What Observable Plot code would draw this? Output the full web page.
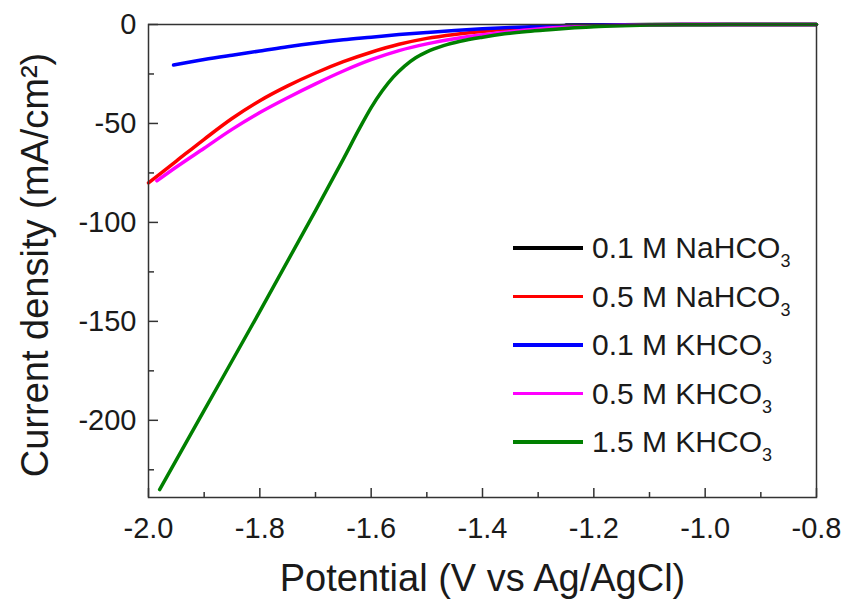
<!DOCTYPE html>
<html>
<head>
<meta charset="utf-8">
<script src="https://cdn.jsdelivr.net/npm/d3@7"></script>
<script src="https://cdn.jsdelivr.net/npm/@observablehq/plot@0.6"></script>
<style>
  html, body { margin: 0; padding: 0; background: #fff; }
  #wrap { position: relative; width: 846px; height: 601px; overflow: hidden; font-family: "Liberation Sans", Arial, sans-serif; }
  #legend { position: absolute; left: 513px; top: 223.75px; }
  .row { display: flex; align-items: center; height: 48.5px; font-size: 30px; line-height: 1; color: #1a1a1a; }
  .sw { width: 70px; height: 3.5px; margin-right: 9px; }
  .row sub { font-size: 18px; vertical-align: baseline; position: relative; top: 9px; }
</style>
</head>
<body>
<div id="wrap"><div id="legend"></div></div>
<script>
// ---- series data (Potential in V vs Ag/AgCl, current density in mA/cm2) ----
const seriesNames = ["0.1 M NaHCO", "0.5 M NaHCO", "0.1 M KHCO", "0.5 M KHCO", "1.5 M KHCO"];
const seriesColors = ["#000000", "#ff0000", "#0000ff", "#ff00ff", "#008000"];

const naHCO3_01_x = [-1.25, -1.2, -1.1, -1.0, -0.9, -0.8];
const naHCO3_01_y = [-0.3, -0.15, -0.05, 0, 0, 0];

const naHCO3_05_x = [-2.0, -1.95, -1.90, -1.85, -1.80, -1.75, -1.70, -1.65, -1.60, -1.55, -1.50, -1.45, -1.40, -1.35, -1.30, -1.25, -1.20, -1.10, -1.0, -0.8];
const naHCO3_05_y = [-80, -69, -58, -47.5, -38.5, -31, -24.5, -18.8, -14, -10, -7, -5, -3.5, -2.3, -1.4, -0.8, -0.4, -0.1, 0, 0];

const kHCO3_01_x = [-1.955, -1.90, -1.85, -1.80, -1.75, -1.70, -1.65, -1.60, -1.55, -1.50, -1.45, -1.40, -1.35, -1.30, -1.25, -1.20, -1.10, -1.0, -0.8];
const kHCO3_01_y = [-20.5, -17.7, -15.5, -13.4, -11.2, -9.3, -7.7, -6.4, -5.1, -4, -3, -2.2, -1.5, -0.95, -0.55, -0.3, -0.08, 0, 0];

const kHCO3_05_x = [-1.985, -1.95, -1.90, -1.85, -1.80, -1.75, -1.70, -1.65, -1.60, -1.55, -1.50, -1.45, -1.40, -1.35, -1.30, -1.25, -1.20, -1.10, -1.0, -0.8];
const kHCO3_05_y = [-79, -72, -62.5, -53, -44.5, -37, -30, -23.5, -17.8, -13.2, -9.8, -7.2, -5.2, -3.6, -2.3, -1.3, -0.7, -0.2, 0, 0];

const kHCO3_15_x = [-1.98, -1.90, -1.80, -1.70, -1.65, -1.62, -1.60, -1.58, -1.56, -1.54, -1.52, -1.50, -1.47, -1.44, -1.40, -1.36, -1.32, -1.28, -1.24, -1.20, -1.15, -1.10, -1.0, -0.9, -0.8];
const kHCO3_15_y = [-235, -195, -145, -94, -68, -52, -42, -33.5, -26.5, -21, -16.8, -13.8, -10.7, -8.5, -6.4, -4.7, -3.5, -2.6, -1.8, -1.1, -0.6, -0.3, -0.1, 0, 0];

// ---- axis ticks ----
const xMajorTicks = [-2.0, -1.8, -1.6, -1.4, -1.2, -1.0, -0.8];
const xMinorTicks = [-1.9, -1.7, -1.5, -1.3, -1.1, -0.9];
const yMajorTicks = [0, -50, -100, -150, -200];
const yMinorTicks = [-25, -75, -125, -175, -225];

const xLabel = "Potential (V vs Ag/AgCl)";
const yLabel = "Current density (mA/cm²)";

const allX = [naHCO3_01_x, naHCO3_05_x, kHCO3_01_x, kHCO3_05_x, kHCO3_15_x];
const allY = [naHCO3_01_y, naHCO3_05_y, kHCO3_01_y, kHCO3_05_y, kHCO3_15_y];
const rows = (xs, ys) => xs.map((x, i) => ({x, y: ys[i]}));

const W = 846, H = 601, mL = 148, mR = 30, mT = 24, mB = 104;
const plotW = W - mL - mR, plotH = H - mT - mB;

const lineMarks = allX.map((xs, i) =>
  Plot.line(rows(xs, allY[i]), {x: "x", y: "y", stroke: seriesColors[i], strokeWidth: 3.5, curve: "monotone-x"})
);

const chart = Plot.plot({
  width: W, height: H,
  marginLeft: mL, marginRight: mR, marginTop: mT, marginBottom: mB,
  style: {fontFamily: "'Liberation Sans', Arial, sans-serif", color: "#1a1a1a", background: "transparent", overflow: "visible"},
  x: {domain: [-2.0, -0.8]},
  y: {domain: [-239, 0]},
  marks: [
    ...lineMarks,
    Plot.frame({stroke: "#333", strokeWidth: 1.5}),
    Plot.tickX(xMajorTicks, {x: d => d, insetTop: plotH - 9, stroke: "#333", strokeWidth: 1.5}),
    Plot.tickX(xMinorTicks, {x: d => d, insetTop: plotH - 5, stroke: "#333", strokeWidth: 1.5}),
    Plot.tickY(yMajorTicks, {y: d => d, insetRight: plotW - 10, stroke: "#333", strokeWidth: 1.5}),
    Plot.tickY(yMinorTicks, {y: d => d, insetRight: plotW - 6, stroke: "#333", strokeWidth: 1.5}),
    Plot.axisX({ticks: xMajorTicks, tickSize: 0, tickPadding: 20, tickFormat: d => d.toFixed(1), fontSize: 29, label: null}),
    Plot.axisY({ticks: yMajorTicks, tickSize: 0, tickPadding: 12, tickFormat: d => String(d), fontSize: 29, label: null}),
    Plot.text([xLabel], {text: d => d, frameAnchor: "bottom", dy: 93, lineAnchor: "bottom", fontSize: 38}),
    Plot.text([yLabel], {text: d => d, frameAnchor: "left", textAnchor: "middle", rotate: -90, dx: -101, dy: 4, lineAnchor: "bottom", fontSize: 38})
  ]
});
document.getElementById("wrap").prepend(chart);

const legend = document.getElementById("legend");
seriesNames.forEach((name, i) => {
  const row = document.createElement("div");
  row.className = "row";
  const sw = document.createElement("span");
  sw.className = "sw";
  sw.style.background = seriesColors[i];
  const t = document.createElement("span");
  t.innerHTML = name + "<sub>3</sub>";
  row.append(sw, t);
  legend.append(row);
});
</script>
</body>
</html>
